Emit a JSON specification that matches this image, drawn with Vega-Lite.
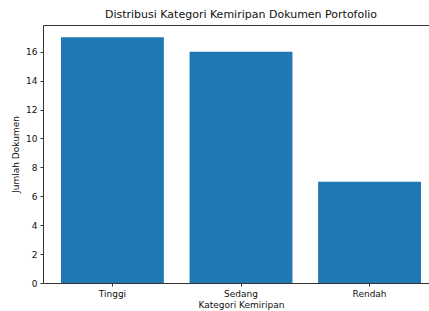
{
  "$schema": "https://vega.github.io/schema/vega-lite/v6.json",
  "autosize": "none",
  "padding": {"left": 43, "top": 25, "right": 0, "bottom": 28},
  "width": 396,
  "height": 258,
  "background": "white",
  "title": {
    "text": "Distribusi Kategori Kemiripan Dokumen Portofolio",
    "font": "DejaVu Sans",
    "fontSize": 11,
    "fontWeight": "normal",
    "color": "#111",
    "anchor": "middle",
    "offset": 5
  },
  "data": {
    "values": [
      {"kategori": "Tinggi", "jumlah": 17},
      {"kategori": "Sedang", "jumlah": 16},
      {"kategori": "Rendah", "jumlah": 7}
    ]
  },
  "mark": {"type": "bar", "color": "#1f77b4"},
  "encoding": {
    "x": {
      "field": "kategori",
      "type": "nominal",
      "sort": null,
      "title": "Kategori Kemiripan",
      "scale": {"paddingInner": 0.2, "paddingOuter": 0.14},
      "axis": {
        "labelAngle": 0,
        "labelFont": "DejaVu Sans",
        "labelFontSize": 9,
        "labelColor": "#111",
        "labelPadding": 3,
        "titleFont": "DejaVu Sans",
        "titleFontSize": 9,
        "titleFontWeight": "normal",
        "titleColor": "#111",
        "titlePadding": 2,
        "tickSize": 3,
        "tickColor": "#333",
        "domain": false
      }
    },
    "y": {
      "field": "jumlah",
      "type": "quantitative",
      "title": "Jumlah Dokumen",
      "scale": {"domain": [0, 17.85], "nice": false},
      "axis": {
        "values": [0, 2, 4, 6, 8, 10, 12, 14, 16],
        "grid": false,
        "labelFont": "DejaVu Sans",
        "labelFontSize": 9,
        "labelColor": "#111",
        "labelPadding": 3,
        "titleFont": "DejaVu Sans",
        "titleFontSize": 9,
        "titleFontWeight": "normal",
        "titleColor": "#111",
        "titlePadding": 5,
        "tickSize": 3,
        "tickColor": "#333",
        "domain": false
      }
    }
  },
  "config": {
    "view": {"stroke": "#333", "strokeWidth": 1}
  }
}
